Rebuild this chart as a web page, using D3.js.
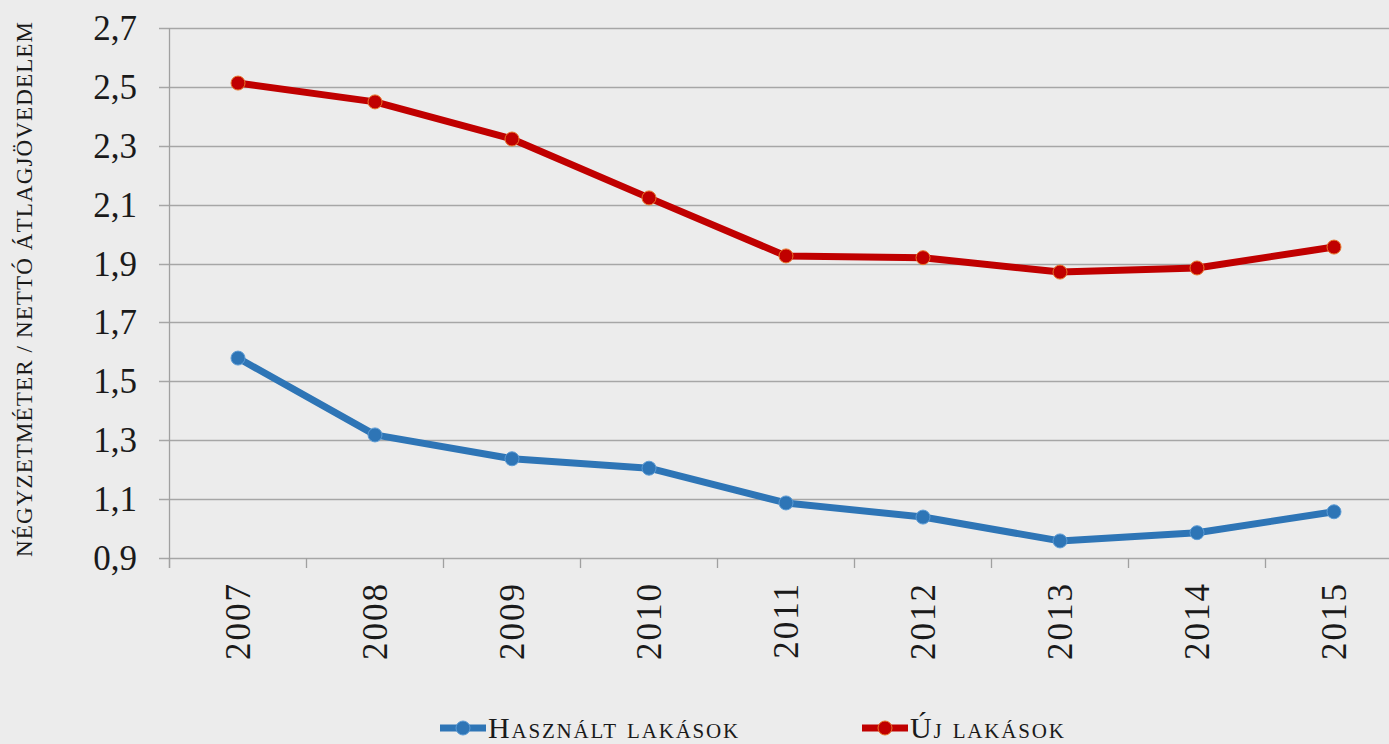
<!DOCTYPE html>
<html><head><meta charset="utf-8">
<script src="https://cdn.jsdelivr.net/npm/d3@7"></script>
<style>
html,body{margin:0;padding:0;background:#ececec;}
svg{display:block;font-family:"Liberation Serif","DejaVu Serif",serif;}
</style></head>
<body>
<svg id="chart" width="1389" height="744"></svg>
<script>
const years = ["2007","2008","2009","2010","2011","2012","2013","2014","2015"];
const usedFlats = [1.579, 1.318, 1.237, 1.205, 1.087, 1.039, 0.958, 0.986, 1.057];
const newFlats = [2.513, 2.449, 2.323, 2.123, 1.926, 1.920, 1.871, 1.885, 1.956];
const yTicks = [0.9, 1.1, 1.3, 1.5, 1.7, 1.9, 2.1, 2.3, 2.5, 2.7];
const yTitle = "NÉGYZETMÉTER / NETTÓ ÁTLAGJÖVEDELEM";
const seriesNames = ["Használt lakások", "Új lakások"];

const svg = d3.select("#chart");
svg.append("rect").attr("width",1389).attr("height",744).attr("fill","#ececec");

const left = 169.5, bandW = 137;
const x = d3.scaleBand().domain(years).range([left, left + bandW*years.length]).padding(0);
const y = d3.scaleLinear().domain([0.9, 2.7]).range([558, 28]);

// gridlines
svg.append("g").selectAll("line").data(yTicks).join("line")
  .attr("x1",159).attr("x2",1389)
  .attr("y1",d=>Math.round(y(d))+0.5).attr("y2",d=>Math.round(y(d))+0.5)
  .attr("stroke","#a6a6a6").attr("stroke-width",1.5);

// y axis line
svg.append("line").attr("x1",left).attr("x2",left).attr("y1",y(2.7)).attr("y2",568)
  .attr("stroke","#a0a0a0").attr("stroke-width",1.3);

// x ticks
const tickXs = d3.range(years.length+1).map(i => left + i*bandW);
svg.append("g").selectAll("line").data(tickXs).join("line")
  .attr("x1",d=>d).attr("x2",d=>d).attr("y1",558).attr("y2",568)
  .attr("stroke","#a0a0a0").attr("stroke-width",1.3);

// y tick labels
const fmt = d => d3.format(".1f")(d).replace(".", ",");
svg.append("g").selectAll("text").data(yTicks).join("text")
  .attr("x",137).attr("y",d=>y(d)+12)
  .attr("text-anchor","end").attr("font-size",35).attr("fill","#1a1a1a")
  .text(fmt);

// x labels
svg.append("g").selectAll("text").data(years).join("text")
  .attr("transform",d=>`translate(${x(d)+x.bandwidth()/2+12},582) rotate(-90)`)
  .attr("text-anchor","end").attr("font-size",35).attr("letter-spacing",2)
  .attr("fill","#1a1a1a")
  .text(d=>d);

// y title
svg.append("text")
  .attr("transform","translate(32,289.5) rotate(-90)")
  .attr("text-anchor","middle").attr("font-size",23).attr("fill","#1a1a1a")
  .attr("textLength",535).attr("lengthAdjust","spacing")
  .text(yTitle);

const cx = d => x(d)+x.bandwidth()/2;
const series = [
  {name: seriesNames[0], values: usedFlats, color:"#2e75b6", ring:"#5b9bd5"},
  {name: seriesNames[1], values: newFlats, color:"#c00000", ring:"#e8762a"}
];
const line = d3.line().x((d,i)=>cx(years[i])).y(d=>y(d));
series.forEach(s=>{
  svg.append("path").datum(s.values).attr("d",line)
    .attr("fill","none").attr("stroke",s.color).attr("stroke-width",7)
    .attr("stroke-linejoin","round");
  svg.append("g").selectAll("circle").data(s.values).join("circle")
    .attr("cx",(d,i)=>cx(years[i])).attr("cy",d=>y(d)).attr("r",7)
    .attr("fill",s.color).attr("stroke",s.ring).attr("stroke-width",1);
});

// legend
const legendX = [440, 862];
series.forEach((s,i)=>{
  const g = svg.append("g").attr("transform",`translate(${legendX[i]},728)`);
  g.append("line").attr("x1",0).attr("x2",46).attr("y1",0).attr("y2",0)
    .attr("stroke",s.color).attr("stroke-width",7);
  g.append("circle").attr("cx",23).attr("cy",0).attr("r",7)
    .attr("fill",s.color).attr("stroke",s.ring).attr("stroke-width",1);
  g.append("text").attr("x",48).attr("y",10).attr("font-size",30)
    .attr("font-variant","small-caps").attr("letter-spacing",1.8).attr("fill","#1a1a1a")
    .text(s.name);
});
</script>
</body></html>
